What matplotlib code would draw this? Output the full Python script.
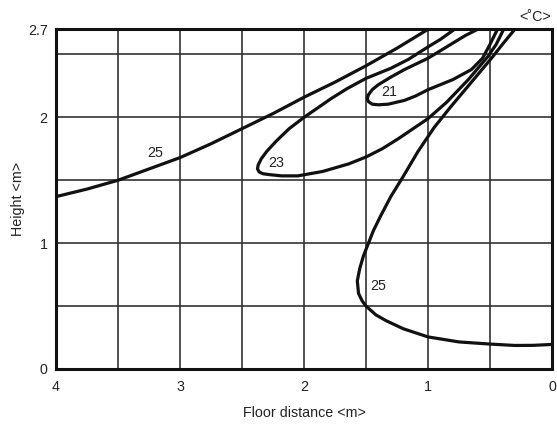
import matplotlib
matplotlib.use("Agg")
import matplotlib.pyplot as plt

plt.rcParams['font.family'] = ['Liberation Sans', 'DejaVu Sans']

# Isotherm 25 (left branch)
c25a_x = [4.0, 3.75, 3.5, 3.25, 3.0, 2.75, 2.5, 2.25, 2.0, 1.75, 1.5, 1.25, 1.0]
c25a_y = [1.37, 1.43, 1.50, 1.59, 1.68, 1.79, 1.91, 2.03, 2.16, 2.28, 2.41, 2.55, 2.70]

# Isotherm 25 (right branch)
c25b_x = [0.30, 0.40, 0.48, 0.675, 0.82, 0.95, 1.08, 1.20, 1.30, 1.38, 1.44, 1.48, 1.52, 1.55,
          1.57, 1.56, 1.53, 1.50, 1.42, 1.34, 1.2, 1.0, 0.75, 0.5, 0.3, 0.15, 0.0]
c25b_y = [2.70, 2.58, 2.48, 2.25, 2.08, 1.92, 1.73, 1.53, 1.37, 1.22, 1.10, 1.00, 0.90, 0.80,
          0.70, 0.60, 0.54, 0.50, 0.43, 0.385, 0.32, 0.255, 0.215, 0.198, 0.187, 0.188, 0.195]

# Isotherm 23
c23_x = [0.786, 0.9, 1.0, 1.16, 1.3, 1.5, 1.65, 1.78, 2.0, 2.12, 2.225, 2.3, 2.345, 2.37, 2.375,
         2.36, 2.33, 2.28, 2.18, 2.05, 1.85, 1.64, 1.5, 1.37, 1.24, 1.12, 1.0, 0.85, 0.675, 0.52,
         0.45, 0.39]
c23_y = [2.70, 2.62, 2.56, 2.46, 2.39, 2.31, 2.23, 2.15, 2.00, 1.91, 1.81, 1.73, 1.67, 1.62, 1.59,
         1.565, 1.552, 1.545, 1.535, 1.535, 1.57, 1.63, 1.685, 1.75, 1.83, 1.91, 1.99, 2.12, 2.30, 2.48,
         2.58, 2.70]

# Isotherm 21
c21_x = [0.60, 0.70, 0.80, 0.90, 1.0, 1.19, 1.30, 1.40, 1.45, 1.48, 1.49, 1.48, 1.45, 1.40, 1.32,
         1.19, 1.10, 1.0, 0.80, 0.65, 0.56, 0.50, 0.44]
c21_y = [2.70, 2.65, 2.59, 2.53, 2.47, 2.38, 2.32, 2.26, 2.22, 2.18, 2.15, 2.125, 2.105, 2.10, 2.105,
         2.135, 2.17, 2.22, 2.30, 2.38, 2.47, 2.58, 2.70]

labels = ["25", "23", "21", "25"]
label_x = [3.2, 2.22, 1.31, 1.40]
label_y = [1.72, 1.635, 2.2, 0.66]

x_ticks = [4, 3, 2, 1, 0]
y_ticks = [0, 1, 2, 2.7]
y_tick_labels = ["0", "1", "2", "2.7"]
x_grid = [3.5, 3, 2.5, 2, 1.5, 1, 0.5]
y_grid = [0.5, 1, 1.5, 2, 2.5]

fig = plt.figure(figsize=(5.57, 4.28), dpi=100)
ax = fig.add_axes([0.1005, 0.1379, 0.8905, 0.7936])

ax.set_xlim(4, 0)
ax.set_ylim(0, 2.7)

ax.xaxis.remove_overlapping_locs = False
ax.yaxis.remove_overlapping_locs = False
ax.set_xticks(x_ticks)
ax.set_xticklabels([str(t) for t in x_ticks])
ax.set_xticks(x_grid, minor=True)
ax.set_yticks(y_ticks)
ax.set_yticklabels(y_tick_labels)
ax.set_yticks(y_grid, minor=True)
ax.grid(False)
ax.grid(True, which='minor', color='#333333', linewidth=1.2)
ax.tick_params(which='both', length=0)
ax.tick_params(axis='x', pad=8, labelsize=10.3, colors='#222222')
ax.tick_params(axis='y', pad=6, labelsize=10.3, colors='#222222')

for s in ax.spines.values():
    s.set_linewidth(2.2)
    s.set_color('#111111')
    s.set_zorder(5)

kw = dict(color='#111111', linewidth=2.3, solid_joinstyle='round', solid_capstyle='round', clip_on=True)
ax.plot(c25a_x, c25a_y, **kw)
ax.plot(c25b_x, c25b_y, **kw)
ax.plot(c23_x, c23_y, **kw)
ax.plot(c21_x, c21_y, **kw)

for t, lx, ly in zip(labels, label_x, label_y):
    ax.text(lx, ly, t, ha='center', va='center', fontsize=10.3, color='#222222')

ax.set_xlabel("Floor distance <m>", fontsize=10.3, color='#222222')
ax.set_ylabel("Height <m>", fontsize=10.3, color='#222222')
ax.xaxis.set_label_coords(0.5, -0.11)
ax.yaxis.set_label_coords(-0.062, 0.5)
fig.text(0.99, 0.96, "<˚C>", ha='right', va='center', fontsize=10.3, color='#222222')

fig.savefig("out.png", dpi=100)
